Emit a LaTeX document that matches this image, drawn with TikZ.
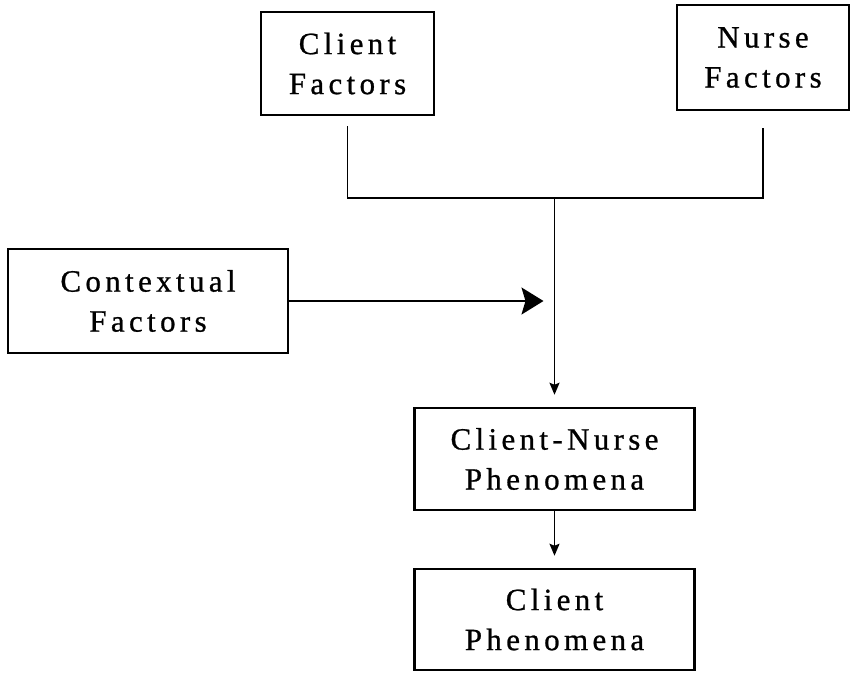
\documentclass[tikz,border=0pt]{standalone}
\usepackage{fontspec}
\setmainfont{Liberation Serif}[LetterSpace=14,FakeBold=0.8]
\usetikzlibrary{arrows.meta,calc}
\begin{document}
\begin{tikzpicture}[x=1pt,y=-1pt,
  box/.style={draw, line width=2.5pt, align=center, inner sep=0pt,
    font=\fontsize{31}{40}\selectfont, minimum height=103pt},
  link/.style={line width=1.8pt},
  smallhead/.style={-{Stealth[length=12pt,width=10pt,inset=2pt]}},
  bighead/.style={-{Stealth[length=22pt,width=27pt,inset=4pt]}}]
\useasboundingbox (0,0) rectangle (852,673);

% factor boxes
\node[box, minimum width=173pt] (cf) at (347.5,63.5) {Client\\Factors};
\node[box, minimum width=172pt, minimum height=105pt] (nf) at (763,57.5) {Nurse\\Factors};
\node[box, minimum width=280pt, minimum height=104pt] (ctx) at (148,301) {Contextual\\Factors};

% phenomena boxes
\node[box, minimum width=280pt, minimum height=102pt] (cn) at (554.5,459) {Client-Nurse\\Phenomena};
\node[box, minimum width=280pt, minimum height=101pt] (cp) at (554.5,619.5) {Client\\Phenomena};

% joining bracket from the two upper boxes
\coordinate (cfd) at ($(cf.south)+(0,10)$);
\coordinate (nfd) at ($(nf.south)+(0,17)$);
\coordinate (j) at (554.5,198);
\draw[link] (cfd) |- (j) -| (nfd);

% main flow
\draw[link, smallhead, shorten >=12pt] (j) -- (j |- cn.north);
\draw[link, bighead, shorten >=11pt] (ctx.east) -- (ctx.east -| j);
\draw[link, smallhead, shorten >=12pt] (cn.south -| j) -- (cp.north -| j);
\end{tikzpicture}
\end{document}
